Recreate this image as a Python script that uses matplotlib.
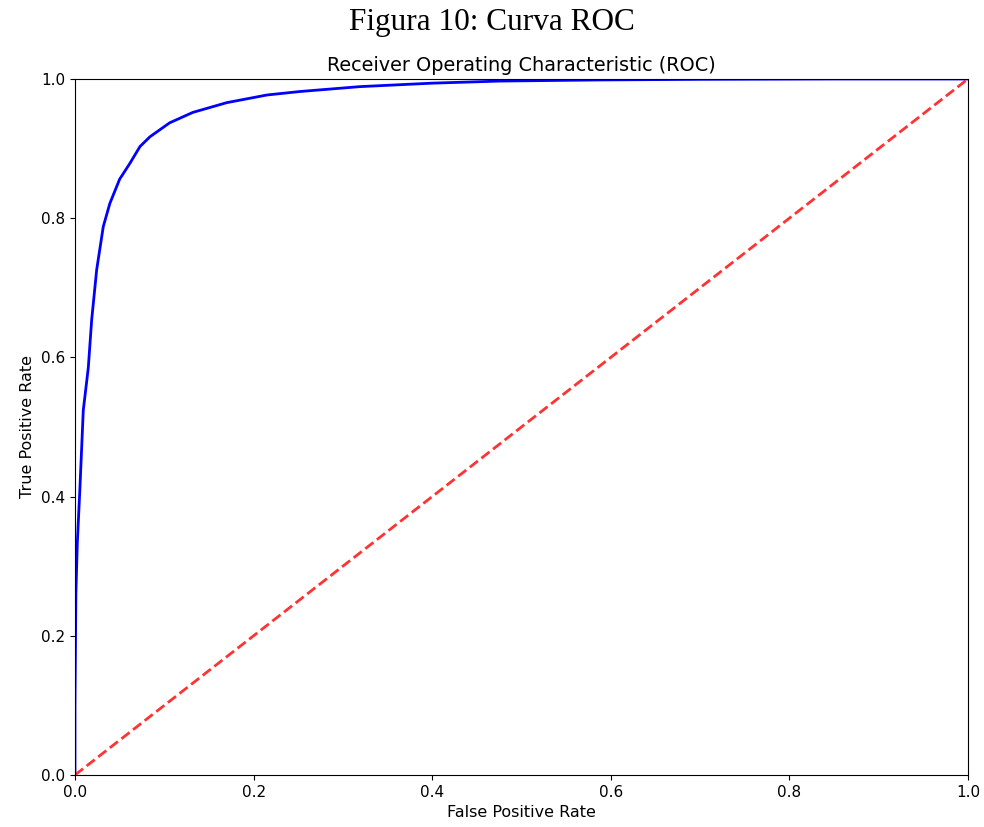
import numpy as np
from matplotlib import pyplot as plt

# ROC curve points
fpr = [0.0, 0.0, 0.0005, 0.001, 0.0026, 0.0056, 0.0093, 0.0149, 0.0187, 0.0243,
       0.0317, 0.039, 0.050, 0.0616, 0.0728, 0.084, 0.106, 0.132, 0.170, 0.215,
       0.252, 0.319, 0.40, 0.476, 0.588, 0.70, 0.85, 1.0]
tpr = [0.0, 0.10, 0.18, 0.26, 0.333, 0.414, 0.524, 0.585, 0.654, 0.726,
       0.788, 0.821, 0.856, 0.879, 0.903, 0.917, 0.937, 0.952, 0.966, 0.977,
       0.982, 0.989, 0.994, 0.997, 0.9986, 0.9995, 1.0, 1.0]

# chance line
diag_x = [0, 1]
diag_y = [0, 1]

fig = plt.figure(figsize=(9.84, 8.27), dpi=100)
ax = fig.add_axes([0.0762, 0.0629, 0.9075, 0.8416])

ax.plot(fpr, tpr, color='b', linewidth=2)
ax.plot(diag_x, diag_y, 'r--', linewidth=2, alpha=0.8)

ax.set_xlim(0, 1)
ax.set_ylim(0, 1)
ax.tick_params(labelsize=11)
ax.set_title('Receiver Operating Characteristic (ROC)', fontsize=13.9)
ax.set_xlabel('False Positive Rate', fontsize=11.5)
ax.set_ylabel('True Positive Rate', fontsize=11.5)

# LaTeX-style caption above the plot
fig.text(0.5, 0.973, 'Figura 10: Curva ROC', ha='center', va='center',
         fontsize=22.5, family='Liberation Serif')

fig.savefig('out.png', dpi=100)
